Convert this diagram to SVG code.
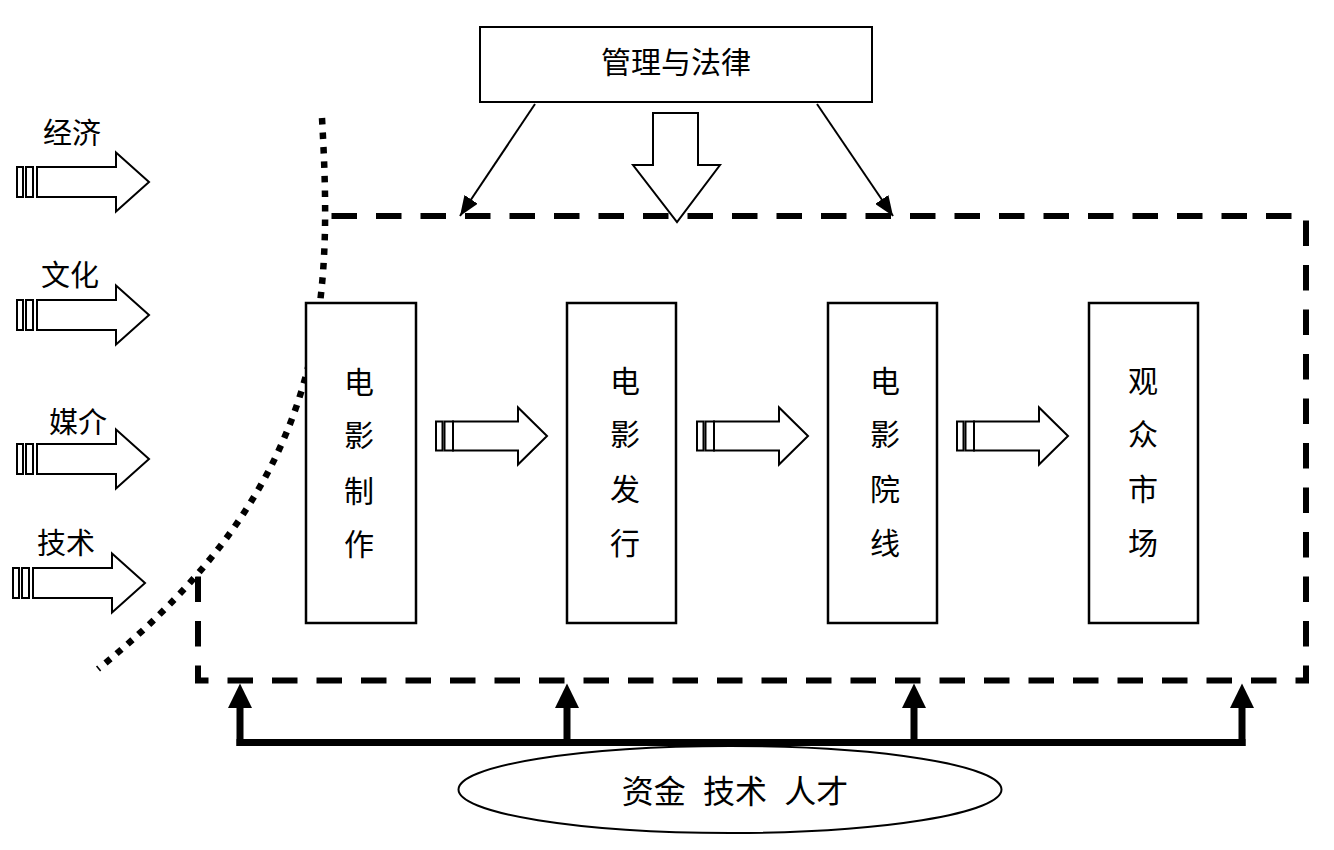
<svg xmlns="http://www.w3.org/2000/svg" width="1334" height="850" viewBox="0 0 1334 850">
<style>
.t{font-family:"Noto Sans CJK SC","Noto Sans CJK JP",sans-serif;fill:#000;text-anchor:middle;dominant-baseline:central}
.box{fill:#fff;stroke:#000;stroke-width:2.5}
.ol{fill:#fff;stroke:#000;stroke-width:2}
.thin{stroke:#000;stroke-width:2;fill:none}
.thick{stroke:#000;stroke-width:7;fill:none}
</style>
<defs>
<marker id="ah" markerUnits="userSpaceOnUse" markerWidth="20" markerHeight="16" refX="20" refY="8" orient="auto"><path d="M0,0 L20,8 L0,16 Z" fill="#000"/></marker>
<marker id="ahb" markerUnits="userSpaceOnUse" markerWidth="25" markerHeight="24" refX="0" refY="12" orient="auto"><path d="M0,0 L24.5,12 L0,24 Z" fill="#000"/></marker>
<g id="inArrow">
<rect x="0" y="-15" width="6" height="30" class="ol"/>
<rect x="9" y="-15" width="7" height="30" class="ol"/>
<path d="M20,-15 H99 V-29.5 L132,0 L99,29.5 V15 H20 Z" class="ol"/>
</g>
<g id="midArrow">
<rect x="0" y="-14.5" width="6.5" height="29" class="ol"/>
<rect x="8.5" y="-14.5" width="8.5" height="29" class="ol"/>
<path d="M17,-14.5 H82 V-28.5 L111,0 L82,28.5 V14.5 H17 Z" class="ol"/>
</g>
</defs>

<g id="system-boundary">
<path d="M198,216 H1306 V680.5 H198 Z" fill="none" stroke="#000" stroke-width="6" stroke-dasharray="25.5 19"/>
<path d="M322,118 C332,300 332,480 98,669 L0,669 L0,0 L322,0 Z" fill="#fff"/>
<path d="M322,118 C332,300 332,480 98,669" fill="none" stroke="#000" stroke-width="6.5" stroke-dasharray="6.5 8"/>
</g>

<g id="connectors">
<line x1="535" y1="104" x2="460" y2="216" class="thin" marker-end="url(#ah)"/>
<line x1="817" y1="104" x2="893" y2="216" class="thin" marker-end="url(#ah)"/>
<path d="M653,113 H698 V165 H720 L677,222 L633,165 H653 Z" class="ol"/>
<path d="M236.5,742.5 H1245.5" class="thick"/>
<line x1="240" y1="746" x2="240" y2="708" class="thick" marker-end="url(#ahb)"/>
<line x1="567" y1="746" x2="567" y2="708" class="thick" marker-end="url(#ahb)"/>
<line x1="914" y1="746" x2="914" y2="708" class="thick" marker-end="url(#ahb)"/>
<line x1="1242" y1="746" x2="1242" y2="708" class="thick" marker-end="url(#ahb)"/>
<use href="#midArrow" x="436" y="436"/>
<use href="#midArrow" x="697" y="436"/>
<use href="#midArrow" x="957" y="436"/>
<use href="#inArrow" x="17" y="182"/>
<use href="#inArrow" x="17" y="315"/>
<use href="#inArrow" x="17" y="459"/>
<use href="#inArrow" x="13" y="583"/>
</g>

<g id="law">
<rect x="480" y="27" width="392" height="75" class="ol"/>
<text class="t" x="676" y="60" font-size="30">管理与法律</text>
</g>

<g id="production">
<rect x="306" y="303" width="110" height="320" class="box"/>
<text class="t" x="359" y="380" font-size="30">电</text>
<text class="t" x="359" y="433" font-size="30">影</text>
<text class="t" x="359" y="489" font-size="30">制</text>
<text class="t" x="359" y="542" font-size="30">作</text>
</g>
<g id="distribution">
<rect x="567" y="303" width="109" height="320" class="box"/>
<text class="t" x="625" y="379" font-size="30">电</text>
<text class="t" x="625" y="432" font-size="30">影</text>
<text class="t" x="625" y="487" font-size="30">发</text>
<text class="t" x="625" y="541" font-size="30">行</text>
</g>
<g id="theater">
<rect x="828" y="303" width="109" height="320" class="box"/>
<text class="t" x="885" y="379" font-size="30">电</text>
<text class="t" x="885" y="432" font-size="30">影</text>
<text class="t" x="885" y="487" font-size="30">院</text>
<text class="t" x="885" y="541" font-size="30">线</text>
</g>
<g id="audience">
<rect x="1089" y="303" width="109" height="320" class="box"/>
<text class="t" x="1143" y="379" font-size="30">观</text>
<text class="t" x="1143" y="432" font-size="30">众</text>
<text class="t" x="1143" y="487" font-size="30">市</text>
<text class="t" x="1143" y="541" font-size="30">场</text>
</g>

<g id="factors">
<text class="t" x="72" y="131" font-size="29">经济</text>
<text class="t" x="70" y="273" font-size="29">文化</text>
<text class="t" x="78" y="420" font-size="29">媒介</text>
<text class="t" x="66" y="541" font-size="29">技术</text>
</g>

<g id="resources">
<ellipse cx="730" cy="789.5" rx="271.5" ry="43.5" class="ol"/>
<text class="t" x="735" y="789" font-size="32" word-spacing="10">资金 技术 人才</text>
</g>
</svg>
